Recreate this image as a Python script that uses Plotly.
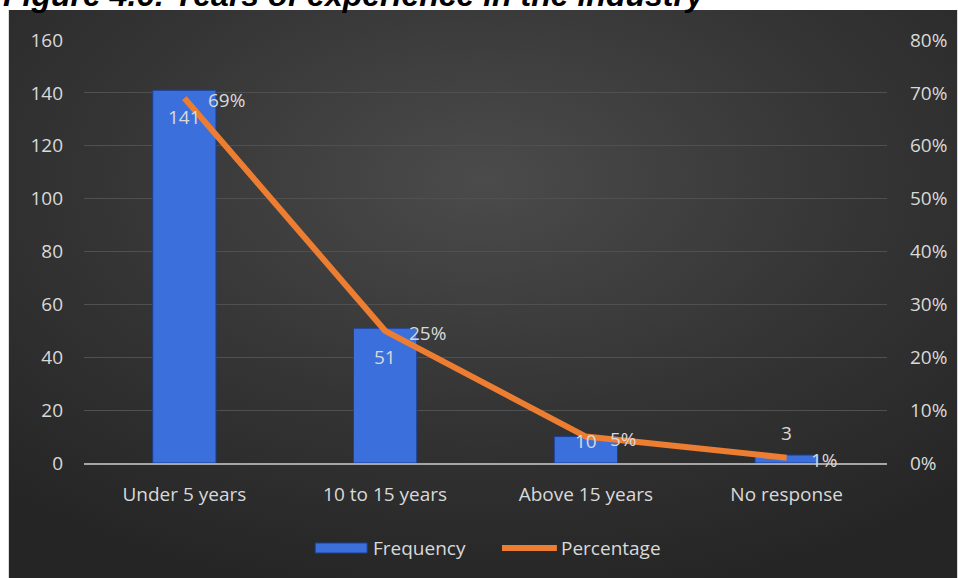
import base64
import plotly.graph_objects as go

# Survey results: years of experience in the industry
categories = ["Under 5 years", "10 to 15 years", "Above 15 years", "No response"]
frequency = [141, 51, 10, 3]
percentage = [0.69, 0.25, 0.05, 0.01]
freq_ticks = [0, 20, 40, 60, 80, 100, 120, 140, 160]
pct_ticks = [0, 0.1, 0.2, 0.3, 0.4, 0.5, 0.6, 0.7, 0.8]

TEXT = "#d9d9d9"
FONT = "Open Sans"
FS = 19
BAR = "#3b70dc"
BAR_EDGE = "#1d3f96"
LINE = "#ed7d31"

# plot-area geometry in pixels (used for the paper-space backdrop and legend)
L, R, T, B = 83.5, 887.5, 40, 463
PW, PH = R - L, B - T


def px_x(x):
    return (x - L) / PW


def px_y(y):
    return (B - y) / PH


# vertical pixel offsets for the frequency labels (inside end / above for tiny bars)
bar_label_shift = [-27, -29, -4, 22]

# dark radial-gradient backdrop drawn as an inline SVG image
svg = (
    '<svg xmlns="http://www.w3.org/2000/svg" width="950" height="568" '
    'viewBox="0 0 950 568" preserveAspectRatio="none">'
    '<defs><radialGradient id="g" cx="50%" cy="30%" r="75%">'
    '<stop offset="0" stop-color="#4b4b4b"/>'
    '<stop offset="0.55" stop-color="#343434"/>'
    '<stop offset="1" stop-color="#252525"/>'
    '</radialGradient></defs>'
    '<rect width="950" height="568" fill="url(#g)"/></svg>'
)
bg_src = "data:image/svg+xml;base64," + base64.b64encode(svg.encode()).decode()

fig = go.Figure()
fig.add_trace(go.Bar(
    x=categories, y=frequency, name="Frequency",
    marker=dict(color=BAR, line=dict(color=BAR_EDGE, width=1)),
    yaxis="y", hoverinfo="skip", showlegend=False,
))
fig.add_trace(go.Scatter(
    x=categories, y=percentage, name="Percentage", mode="lines",
    line=dict(color=LINE, width=6), yaxis="y2", hoverinfo="skip", showlegend=False,
))

label_font = dict(family=FONT, size=FS, color=TEXT)
annotations = []
for cat, val, dy in zip(categories, frequency, bar_label_shift):
    annotations.append(dict(
        x=cat, y=val, xref="x", yref="y", text=str(val), showarrow=False,
        yanchor="middle", yshift=dy, font=label_font,
    ))
for cat, val in zip(categories, percentage):
    annotations.append(dict(
        x=cat, y=val, xref="x", yref="y2", text=f"{val:.0%}", showarrow=False,
        xanchor="left", yanchor="middle", xshift=22, yshift=-2, font=label_font,
    ))

# title sitting above the chart panel
annotations.append(dict(
    x=px_x(0), y=px_y(15), xref="paper", yref="paper", xanchor="left", yanchor="bottom",
    text="<b><i>Figure 4.6: Years of experience in the industry</i></b>",
    showarrow=False, font=dict(family="Liberation Sans", size=32, color="#000000"),
))

# legend: wide bar swatch and thick line swatch
legend_y = 548
annotations.append(dict(
    x=px_x(371), y=px_y(legend_y), xref="paper", yref="paper", xanchor="left",
    yanchor="middle", text="Frequency", showarrow=False, font=label_font,
))
annotations.append(dict(
    x=px_x(559), y=px_y(legend_y), xref="paper", yref="paper", xanchor="left",
    yanchor="middle", text="Percentage", showarrow=False, font=label_font,
))
shapes = [
    dict(type="rect", xref="paper", yref="paper",
         x0=px_x(315), x1=px_x(367), y0=px_y(553), y1=px_y(543),
         fillcolor=BAR, line=dict(color=BAR_EDGE, width=1)),
    dict(type="line", xref="paper", yref="paper",
         x0=px_x(502), x1=px_x(557), y0=px_y(legend_y), y1=px_y(legend_y),
         line=dict(color=LINE, width=6)),
]

fig.update_layout(
    width=958, height=578,
    margin=dict(l=L, r=958 - R, t=T, b=578 - B),
    paper_bgcolor="#ffffff", plot_bgcolor="rgba(0,0,0,0)",
    font=dict(family=FONT, size=FS, color=TEXT),
    bargap=0.685,
    showlegend=False,
    xaxis=dict(showgrid=False, showline=True, linecolor="#a6a6a6", linewidth=2,
               ticks="", tickfont=label_font, ticklabelstandoff=13, fixedrange=True),
    yaxis=dict(range=[0, 160], tickvals=freq_ticks, showgrid=True, gridcolor="#505050",
               gridwidth=1, zeroline=False, showline=False, ticks="",
               tickfont=label_font, ticklabelstandoff=20),
    yaxis2=dict(range=[0, 0.8], tickvals=pct_ticks, tickformat=".0%", overlaying="y",
                side="right", showgrid=False, zeroline=False, showline=False, ticks="",
                tickfont=label_font, ticklabelstandoff=22),
    images=[dict(source=bg_src, xref="paper", yref="paper",
                 x=px_x(8), y=px_y(10), sizex=(958 - 8) / PW, sizey=(578 - 10) / PH,
                 sizing="stretch", xanchor="left", yanchor="top", layer="below")],
    annotations=annotations,
    shapes=shapes,
)

fig.write_html("out.html")
